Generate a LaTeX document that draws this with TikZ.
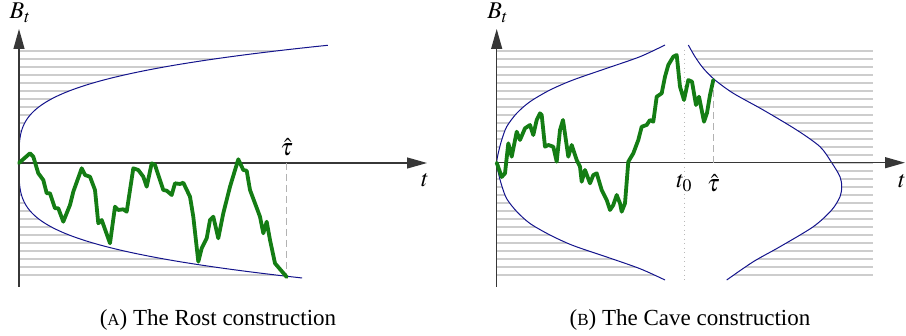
\documentclass[tikz,border=0pt]{standalone}
\usepackage{mathptmx}
\usepackage[no-math]{fontspec}
\setmainfont{Liberation Serif}
\usetikzlibrary{arrows.meta}

\definecolor{walkgreen}{RGB}{20,125,20}
\definecolor{boundblue}{RGB}{20,20,140}
\definecolor{hatchgray}{RGB}{205,205,205}
\definecolor{axisgray}{RGB}{55,55,55}

\tikzset{
  axis/.style={draw=axisgray, line width=1.2pt, -{Triangle[length=20pt,width=11pt]}},
  hatchline/.style={draw=hatchgray, line width=2pt},
  boundary/.style={draw=boundblue, line width=1pt},
  walkline/.style={draw=walkgreen, line width=3.8pt, line join=round, line cap=round},
  stopline/.style={draw=gray!60, line width=0.9pt, dash pattern=on 7pt off 4pt},
  startline/.style={draw=gray!55, line width=0.9pt, dash pattern=on 1pt off 3.5pt},
  lbl/.style={font=\fontsize{24}{28}\selectfont, inner sep=0pt},
  captext/.style={font=\fontsize{23}{27}\selectfont, inner sep=0pt, anchor=base},
}

\begin{document}
\begin{tikzpicture}[x=1pt, y=-1pt]
  \useasboundingbox (0,0) rectangle (906,336);

  % (A) Rost
  \coordinate (Oa) at (19,163);
  \coordinate (Ya) at (19,29);
  \coordinate (Ba) at (19,287);
  \coordinate (Xa) at (427,163);
  \coordinate (Ta) at (286.7,277);

  \foreach \k in {0,...,28}
    \draw[hatchline] (19,{50.7+8*\k}) -- (300,{50.7+8*\k});
  \fill[white] (Oa) -- plot[domain=0.05:4.71, samples=80] ({19+\x^3.7},{163-25*\x})
    -- (345,40) -- (345,290)
    -- plot[domain=4.6:0.05, samples=80] ({19+\x^3.7},{163+25*\x}) -- cycle;
  \draw[boundary] (Oa) -- plot[domain=0.05:4.71, samples=80] ({19+\x^3.7},{163-25*\x});
  \draw[boundary] (Oa) -- plot[domain=0.05:4.6, samples=80] ({19+\x^3.7},{163+25*\x});

  \draw[axis] (Ba) -- (Ya);
  \draw[axis] (Oa) -- (Xa);
  \draw[stopline] (Ta |- Oa) -- (Ta);

  \draw[walkline] (Oa) -- plot coordinates {(30,153.3) (33.3,156.7) (38.3,173.3) (43.3,180)
    (46.7,193.3) (50,193.3) (55,208.3) (58.3,208.3) (63.3,221.7) (70,205) (73.3,191.7)
    (81.7,168.3) (85,175) (90,176.7) (95,190) (98.3,223.3) (101.7,220) (110,243.3)
    (115,206.7) (118.3,210) (123.3,209.3) (126.7,211.7) (133.3,168.3) (138.3,170)
    (143.3,176.7) (146.7,186.7) (151.7,163.3) (155,165) (163.3,190) (166.7,190.7)
    (171.7,195) (175,183.3) (180,184) (183.3,182.7) (190,196.7) (193.3,216.7)
    (198.3,261.7) (201.7,248.3) (206.7,238.3) (210,220) (213.3,216.7) (218.3,238.3)
    (223.3,213.3) (230,186.7) (238.3,159.3) (243.3,170) (246.7,170.7) (250,190)
    (255,203.3) (260,216.7) (263.3,233.3) (266.7,221.7) (270,240) (275,263.3)} -- (Ta);

  \node[lbl] (BtA) at (20,13) {$B_t$};
  \node[lbl] (tA) at (425,180) {$t$};
  \node[lbl] (tauA) at (286.7,147) {$\hat{\tau}$};
  \node[captext] (capA) at (218,326) {({\fontsize{17}{17}\selectfont A}) The Rost construction};

  % (B) Cave
  \coordinate (Ob) at (496.7,162.7);
  \coordinate (Yb) at (496.7,29);
  \coordinate (Bb) at (496.7,287);
  \coordinate (Xb) at (905,162.7);
  \coordinate (Tb) at (713.3,80);
  \coordinate (Zt) at (684.3,50);
  \coordinate (Zb) at (684.3,280);

  \foreach \k in {0,...,28}
    \draw[hatchline] (496.7,{50.7+8*\k}) -- (873,{50.7+8*\k});
  \fill[white] plot[smooth] coordinates {(665,45) (640,56.7) (606.7,68.3) (573,80) (550,90)
      (530,101.7) (516.7,113.3) (506.7,126.7) (501.7,140) (498.3,153) (496.7,162.7)
      (498.3,172.5) (501.7,185.5) (506.7,198.7) (516.7,211.5) (530,223.5) (550,235)
      (573,245.5) (606.7,257) (640,268.7) (665,280)}
    -- plot[smooth] coordinates {(726.7,280) (753.3,261.7) (780,246.7) (813.3,226.7)
      (831.7,210) (840,196.7) (841.7,186.7) (840,176.7) (831.7,162.7) (820,146.7)
      (796.7,130) (763.3,110) (733.3,93.3) (715,80) (703.3,68.3) (695,56.7) (688.3,45)}
    -- cycle;
  \draw[boundary] plot[smooth] coordinates {(665,45) (640,56.7) (606.7,68.3) (573,80) (550,90)
      (530,101.7) (516.7,113.3) (506.7,126.7) (501.7,140) (498.3,153) (496.7,162.7)
      (498.3,172.5) (501.7,185.5) (506.7,198.7) (516.7,211.5) (530,223.5) (550,235)
      (573,245.5) (606.7,257) (640,268.7) (665,280)};
  \draw[boundary] plot[smooth] coordinates {(726.7,280) (753.3,261.7) (780,246.7) (813.3,226.7)
      (831.7,210) (840,196.7) (841.7,186.7) (840,176.7) (831.7,162.7) (820,146.7)
      (796.7,130) (763.3,110) (733.3,93.3) (715,80) (703.3,68.3) (695,56.7) (688.3,45)};

  \draw[startline] (Zt) -- (Zb);
  \draw[axis] (Bb) -- (Yb);
  \draw[axis] (Ob) -- (Xb);
  \draw[stopline] (Tb |- Ob) -- (Tb);

  \draw[walkline] (Ob) -- plot coordinates {(501.7,177) (505,173.3) (508.3,143.3) (511.7,156.7)
    (516.7,131.7) (520,140) (525,128.3) (530,125) (533.3,135) (536.7,120) (540,113.3)
    (541.7,115) (545,146.7) (548.3,145) (553.3,146.7) (556.7,161.7) (560,130) (563,120)
    (568.3,156.7) (571.7,145) (576.7,160) (580,166.7) (581.7,181.7) (585,170) (590,183.3)
    (593.3,175) (596.7,173.3) (601.7,190) (606.7,200) (610,210) (613.3,205) (616.7,195)
    (620,203.3) (621.7,211.7) (625,203.3) (628.3,161.7) (633.3,153.3) (638.3,140)
    (641.7,126.7) (646.7,125) (650,120) (653.3,121.7) (656.7,96.7) (661.7,93.3) (665,76.7)
    (668.3,65) (673.3,56.7) (676.7,55) (680,86.7) (684,100) (688.3,80) (692,81.7)
    (696,105) (699,96.7) (704,121.7) (707,113) (710,95)} -- (Tb);

  \node[lbl] (BtB) at (497.7,13) {$B_t$};
  \node[lbl] (tB) at (902,181) {$t$};
  \node[lbl] (tzero) at (684.3,183) {$t_0$};
  \node[lbl] (tauB) at (713.3,183) {$\hat{\tau}$};
  \node[captext] (capB) at (690,326) {({\fontsize{17}{17}\selectfont B}) The Cave construction};
\end{tikzpicture}
\end{document}
